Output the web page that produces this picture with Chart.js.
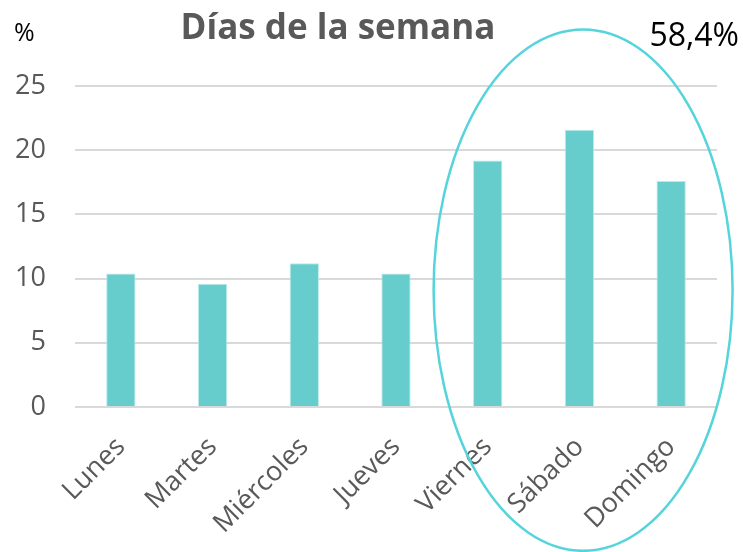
<!DOCTYPE html>
<html>
<head>
<meta charset="utf-8">
<script src="https://cdn.jsdelivr.net/npm/chart.js@4/dist/chart.umd.min.js"></script>
<style>
  body { margin: 0; background: #ffffff; }
  #wrap { width: 743px; height: 552px; position: relative; }
</style>
</head>
<body>
<div id="wrap"><canvas id="diasChart"></canvas></div>
<script>
// datos
var dias = ['Lunes', 'Martes', 'Miércoles', 'Jueves', 'Viernes', 'Sábado', 'Domingo'];
var porcentajes = [10.4, 9.6, 11.2, 10.4, 19.2, 21.6, 17.6];
var yTicks = [0, 5, 10, 15, 20, 25];
var tituloTexto = 'Días de la semana';
var unidadTexto = '%';
var finDeSemanaTexto = '58,4%';

var gris = '#595959';
var fuente = "'Open Sans', sans-serif";

// dibuja título, unidad y el óvalo del fin de semana
var extrasPlugin = {
    id: 'extras',
    afterDraw: function (chart) {
        var ctx = chart.ctx;
        var x = chart.scales.x;
        var y = chart.scales.y;
        ctx.save();

        ctx.fillStyle = gris;
        ctx.font = 'bold 35px ' + fuente;
        ctx.textAlign = 'center';
        ctx.textBaseline = 'alphabetic';
        ctx.fillText(tituloTexto, 338, 39);

        ctx.fillStyle = '#000000';
        ctx.font = '25px ' + fuente;
        ctx.textAlign = 'left';
        ctx.fillText(unidadTexto, 14, 41);

        ctx.font = '32px ' + fuente;
        ctx.textAlign = 'right';
        ctx.fillText(finDeSemanaTexto, 739, 46);

        // óvalo alrededor de Viernes-Domingo
        var paso = x.getPixelForValue(1) - x.getPixelForValue(0);
        var cx = x.getPixelForValue(5) + 0.04 * paso;
        var cy = y.getPixelForValue(9.1);
        var rx = 1.63 * paso;
        var ry = y.getPixelForValue(0) - y.getPixelForValue(20.3);
        ctx.beginPath();
        ctx.ellipse(cx, cy, rx, ry, 0, 0, Math.PI * 2);
        ctx.strokeStyle = '#55D4DB';
        ctx.lineWidth = 2.5;
        ctx.stroke();

        ctx.restore();
    }
};

function createDiasChart() {
    var canvas = document.getElementById('diasChart').getContext('2d');

    new Chart(canvas, {
        type: 'bar',
        data: {
            labels: dias,
            datasets: [{
                label: tituloTexto,
                data: porcentajes,
                backgroundColor: '#66CCCC',
                borderColor: '#B9EAEA',
                borderWidth: 1,
                categoryPercentage: 1,
                barPercentage: 0.32
            }]
        },
        plugins: [extrasPlugin],
        options: {
            responsive: true,
            maintainAspectRatio: false,
            animation: false,
            layout: {
                padding: { top: 86, right: 26, left: 0, bottom: 0 }
            },
            plugins: {
                legend: { display: false },
                tooltip: { enabled: false },
                title: { display: false }
            },
            scales: {
                x: {
                    afterFit: function (scale) { scale.height = 145; },
                    grid: { display: false, drawTicks: false },
                    border: { display: false },
                    ticks: {
                        color: gris,
                        font: { family: fuente, size: 27 },
                        minRotation: 45,
                        maxRotation: 45,
                        padding: 24,
                        autoSkip: false
                    }
                },
                y: {
                    min: 0,
                    max: 25,
                    afterFit: function (scale) { scale.width = 75; },
                    afterBuildTicks: function (scale) {
                        scale.ticks = yTicks.map(function (v) { return { value: v }; });
                    },
                    grid: { color: '#D9D9D9', lineWidth: 2, drawTicks: false },
                    border: { display: false },
                    ticks: {
                        color: gris,
                        font: { family: fuente, size: 27 },
                        padding: 29
                    }
                }
            }
        }
    });
}

createDiasChart();
</script>
</body>
</html>
